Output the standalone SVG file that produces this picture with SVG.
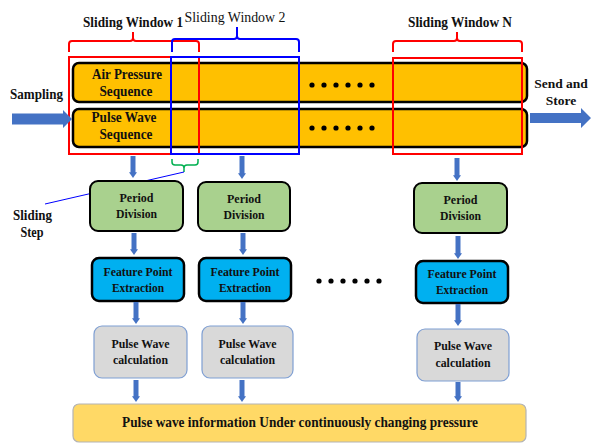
<svg xmlns="http://www.w3.org/2000/svg" width="592" height="445" viewBox="0 0 592 445" font-family="Liberation Serif, DejaVu Serif, serif">
<style>
text{font-weight:bold;fill:#111;text-anchor:middle}
.lbl{font-size:14.5px}
.bx{font-size:13px}
.bar{fill:#ffc000;stroke:#000;stroke-width:2.5}
.per{fill:#a9d18e;stroke:#000;stroke-width:2}
.feat{fill:#00b0f0;stroke:#000;stroke-width:2.5}
.calc{fill:#d9d9d9;stroke:#7f9fd3;stroke-width:1.2}
.info{fill:#ffd966;stroke:#b4b4b4;stroke-width:1.2}
.red{fill:none;stroke:#ff0000;stroke-width:2}
.blue{fill:none;stroke:#0000ff;stroke-width:2}
.arr{stroke:#4472c4;stroke-width:5;marker-end:url(#ah)}
.big{fill:#4472c4}
.dot{fill:#000}
</style>
<defs>
<marker id="ah" markerUnits="userSpaceOnUse" markerWidth="11" markerHeight="8" viewBox="0 0 8 11" refX="1" refY="5.5" orient="auto">
<path d="M0,0 L8,5.5 L0,11 Z" fill="#4472c4"/>
</marker>
</defs>

<g id="sequences">
<rect class="bar" x="73" y="63" width="454" height="39" rx="6"/>
<rect class="bar" x="73" y="109" width="454" height="38" rx="6"/>
<text class="lbl" x="127" y="79" textLength="70" lengthAdjust="spacingAndGlyphs">Air Pressure</text>
<text class="lbl" x="126" y="96" textLength="53" lengthAdjust="spacingAndGlyphs">Sequence</text>
<text class="lbl" x="124" y="122" textLength="65" lengthAdjust="spacingAndGlyphs">Pulse Wave</text>
<text class="lbl" x="126" y="139" textLength="53" lengthAdjust="spacingAndGlyphs">Sequence</text>
<circle class="dot" cx="312" cy="85" r="2.6"/><circle class="dot" cx="324" cy="85" r="2.6"/><circle class="dot" cx="336" cy="85" r="2.6"/><circle class="dot" cx="348" cy="85" r="2.6"/><circle class="dot" cx="360" cy="85" r="2.6"/><circle class="dot" cx="372" cy="85" r="2.6"/>
<circle class="dot" cx="312" cy="128" r="2.6"/><circle class="dot" cx="324" cy="128" r="2.6"/><circle class="dot" cx="336" cy="128" r="2.6"/><circle class="dot" cx="348" cy="128" r="2.6"/><circle class="dot" cx="360" cy="128" r="2.6"/><circle class="dot" cx="372" cy="128" r="2.6"/>
</g>

<g id="window1">
<rect class="red" x="69" y="57" width="130" height="97"/>
<path class="red" d="M69,52 V44 Q69,41 72,41 H130 Q133,41 133,38 V32 M133,38 Q133,41 136,41 H196 Q199,41 199,44 V52"/>
<text class="lbl" x="133" y="27" textLength="100" lengthAdjust="spacingAndGlyphs">Sliding Window 1</text>
</g>

<g id="window2">
<rect class="blue" x="171" y="57" width="128" height="97"/>
<path class="blue" d="M172,52 V42 Q172,39 175,39 H234 Q237,39 237,36 V27 M237,36 Q237,39 240,39 H296 Q299,39 299,42 V52"/>
<text x="235" y="22" style="font-size:15px;font-weight:normal" textLength="101" lengthAdjust="spacingAndGlyphs">Sliding Window 2</text>
</g>

<g id="windowN">
<rect class="red" x="393" y="58" width="129" height="96"/>
<path class="red" d="M393,52 V44 Q393,41 396,41 H454 Q457,41 457,38 V32 M457,38 Q457,41 460,41 H519 Q522,41 522,44 V52"/>
<text class="lbl" x="460" y="27" textLength="104" lengthAdjust="spacingAndGlyphs">Sliding Window N</text>
</g>

<g id="sampling-label"><text class="lbl" x="36.5" y="99" textLength="53" lengthAdjust="spacingAndGlyphs">Sampling</text></g>
<g id="send-label"><text x="561" y="88" style="font-size:13.5px">Send and</text><text x="561" y="105" style="font-size:13.5px">Store</text></g>

<g id="sliding-step">
<path d="M172,159 V162 Q172,165 175,165 H181 Q184,165 184,168 V172 M184,168 Q184,165 187,165 H195 Q198,165 198,162 V159" fill="none" stroke="#00b050" stroke-width="1.5"/>
<line x1="184" y1="172" x2="45" y2="204" stroke="#0000ff" stroke-width="1"/>
<text class="lbl" x="32.5" y="220" textLength="39" lengthAdjust="spacingAndGlyphs">Sliding</text>
<text class="lbl" x="32" y="237" textLength="23" lengthAdjust="spacingAndGlyphs">Step</text>
</g>

<g id="period1"><rect class="per" x="90" y="181" width="93" height="50" rx="8"/><text class="bx" x="136.5" y="202" textLength="34" lengthAdjust="spacingAndGlyphs">Period</text><text class="bx" x="136.5" y="218" textLength="41" lengthAdjust="spacingAndGlyphs">Division</text></g>
<g id="period2"><rect class="per" x="198" y="182" width="92" height="49" rx="8"/><text class="bx" x="244" y="203" textLength="34" lengthAdjust="spacingAndGlyphs">Period</text><text class="bx" x="244" y="219" textLength="41" lengthAdjust="spacingAndGlyphs">Division</text></g>
<g id="periodN"><rect class="per" x="414" y="183" width="93" height="50" rx="8"/><text class="bx" x="460.5" y="204" textLength="34" lengthAdjust="spacingAndGlyphs">Period</text><text class="bx" x="460.5" y="220" textLength="41" lengthAdjust="spacingAndGlyphs">Division</text></g>

<g id="feature1"><rect class="feat" x="92" y="258" width="92" height="43" rx="7"/><text class="bx" x="138" y="276" textLength="69" lengthAdjust="spacingAndGlyphs">Feature Point</text><text class="bx" x="138" y="292" textLength="52" lengthAdjust="spacingAndGlyphs">Extraction</text></g>
<g id="feature2"><rect class="feat" x="199" y="258" width="92" height="43" rx="7"/><text class="bx" x="245" y="276" textLength="69" lengthAdjust="spacingAndGlyphs">Feature Point</text><text class="bx" x="245" y="292" textLength="52" lengthAdjust="spacingAndGlyphs">Extraction</text></g>
<g id="featureN"><rect class="feat" x="416" y="261" width="92" height="42" rx="7"/><text class="bx" x="462" y="278" textLength="69" lengthAdjust="spacingAndGlyphs">Feature Point</text><text class="bx" x="462" y="294" textLength="52" lengthAdjust="spacingAndGlyphs">Extraction</text></g>

<g id="mid-dots">
<circle class="dot" cx="319" cy="281" r="2.6"/><circle class="dot" cx="331" cy="281" r="2.6"/><circle class="dot" cx="343" cy="281" r="2.6"/><circle class="dot" cx="355" cy="281" r="2.6"/><circle class="dot" cx="367" cy="281" r="2.6"/><circle class="dot" cx="379" cy="281" r="2.6"/>
</g>

<g id="calc1"><rect class="calc" x="94" y="326" width="93" height="52" rx="8"/><text class="bx" x="140.5" y="348" textLength="58" lengthAdjust="spacingAndGlyphs">Pulse Wave</text><text class="bx" x="140.5" y="364" textLength="55" lengthAdjust="spacingAndGlyphs">calculation</text></g>
<g id="calc2"><rect class="calc" x="202" y="326" width="91" height="52" rx="8"/><text class="bx" x="247.5" y="348" textLength="58" lengthAdjust="spacingAndGlyphs">Pulse Wave</text><text class="bx" x="247.5" y="364" textLength="55" lengthAdjust="spacingAndGlyphs">calculation</text></g>
<g id="calcN"><rect class="calc" x="417" y="329" width="92" height="52" rx="8"/><text class="bx" x="463" y="350" textLength="58" lengthAdjust="spacingAndGlyphs">Pulse Wave</text><text class="bx" x="463" y="367" textLength="55" lengthAdjust="spacingAndGlyphs">calculation</text></g>

<g id="info"><rect class="info" x="73" y="404" width="453" height="38" rx="6"/><text x="300" y="427" style="font-size:15px" textLength="356" lengthAdjust="spacingAndGlyphs">Pulse wave information Under continuously changing pressure</text></g>

<g id="connectors">
<path class="big" d="M12,113.5 H63 V110 L72,119 L63,128 V124.5 H12 Z"/>
<path class="big" d="M530,113 H581 V108 L591,118 L581,128 V123 H530 Z"/>
<line class="arr" x1="133" y1="156" x2="133" y2="173"/>
<line class="arr" x1="242" y1="156" x2="242" y2="174"/>
<line class="arr" x1="457" y1="158" x2="457" y2="176"/>
<line class="arr" x1="134" y1="233" x2="134" y2="250"/>
<line class="arr" x1="243" y1="233" x2="243" y2="250"/>
<line class="arr" x1="458" y1="236" x2="458" y2="254"/>
<line class="arr" x1="136" y1="302" x2="136" y2="319"/>
<line class="arr" x1="243" y1="302" x2="243" y2="319"/>
<line class="arr" x1="458" y1="304" x2="458" y2="321"/>
<line class="arr" x1="136" y1="380" x2="136" y2="397"/>
<line class="arr" x1="242" y1="380" x2="242" y2="397"/>
<line class="arr" x1="458" y1="382" x2="458" y2="397"/>
</g>
</svg>
